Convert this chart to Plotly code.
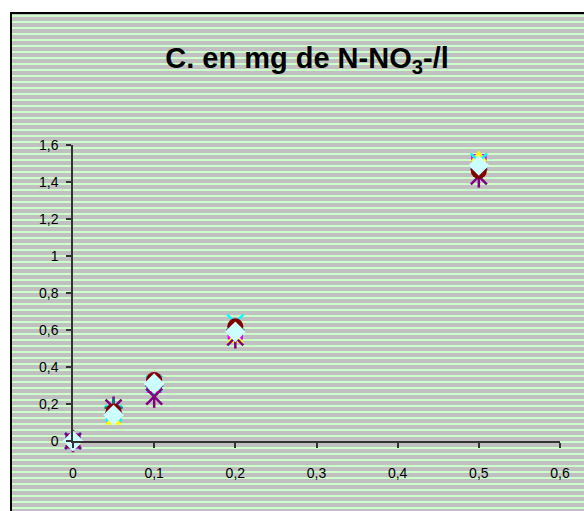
import plotly.graph_objects as go

# Concentrations (x) and measured values for each series
x_conc = [0, 0.05, 0.1, 0.2, 0.5]

serie_diamant = [0, 0.15, 0.31, 0.60, 1.49]
serie_carre_magenta = [0, 0.14, 0.30, 0.59, 1.51]
serie_triangle = [0, 0.11, 0.29, 0.55, 1.53]
serie_croix_cyan = [0, 0.15, 0.31, 0.64, 1.51]
serie_etoile = [0, 0.18, 0.24, 0.56, 1.43]
serie_cercle = [0, 0.16, 0.33, 0.62, 1.46]
serie_plus = [0, 0.18, 0.30, 0.60, 1.49]
serie_carre_bleu = [0, 0.15, 0.31, 0.59, 1.51]
serie_diamant_clair = [0, 0.14, 0.31, 0.59, 1.49]

x_ticks = [0, 0.1, 0.2, 0.3, 0.4, 0.5, 0.6]
y_ticks = [0, 0.2, 0.4, 0.6, 0.8, 1, 1.2, 1.4, 1.6]

W, H = 584, 511
ML, MR, MT, MB = 73, 24, 145, 70
PW, PH = W - ML - MR, H - MT - MB


def px(x):
    return (x - ML) / PW


def py(y):
    return (H - MB - y) / PH


fig = go.Figure()

series = [
    ("Série 1", serie_diamant, dict(symbol="diamond", size=14, color="#000080")),
    ("Série 8", serie_carre_bleu, dict(symbol="square", size=15, color="#0000FF")),
    ("Série 2", serie_carre_magenta, dict(symbol="square", size=15, color="#FF00FF")),
    ("Série 3", serie_triangle, dict(symbol="triangle-up", size=15, color="#FFFF00")),
    ("Série 4", serie_croix_cyan, dict(symbol="x-thin", size=16, color="#00FFFF",
                                       line=dict(color="#00FFFF", width=2.5))),
    ("Série 5", serie_etoile, dict(symbol="x-thin", size=16, color="#800080",
                                   line=dict(color="#800080", width=2.5))),
    ("Série 5", serie_etoile, dict(symbol="line-ns", size=16, color="#800080",
                                   line=dict(color="#800080", width=2.5))),
    ("Série 7", serie_plus, dict(symbol="cross-thin", size=13, color="#008080",
                                 line=dict(color="#008080", width=2.5))),
    ("Série 6", serie_cercle, dict(symbol="circle", size=16, color="#800000")),
    ("Série 9", serie_diamant_clair, dict(symbol="diamond", size=16, color="#CCFFFF")),
]

for name, ys, mk in series:
    mk.setdefault("line", dict(width=0))
    fig.add_trace(go.Scatter(x=x_conc, y=ys, mode="markers", name=name,
                             marker=mk, cliponaxis=False, showlegend=False))

# Striped chart-area background with a black frame on the left and top
shapes = [dict(type="rect", xref="paper", yref="paper", layer="below",
               x0=px(11), x1=px(W + 20), y0=py(13), y1=py(H + 20),
               fillcolor="#C0C0C0", line=dict(width=0))]
y = 15
while y < H:
    shapes.append(dict(type="rect", xref="paper", yref="paper", layer="below",
                       x0=px(11), x1=px(W + 20), y0=py(y), y1=py(y + 2),
                       fillcolor="#CCFFCC", line=dict(width=0)))
    y += 6
shapes.append(dict(type="line", xref="paper", yref="paper", layer="below",
                   x0=px(11), x1=px(11), y0=py(12), y1=py(H + 20),
                   line=dict(color="black", width=2)))
shapes.append(dict(type="line", xref="paper", yref="paper", layer="below",
                   x0=px(10), x1=px(W + 20), y0=py(13), y1=py(13),
                   line=dict(color="black", width=2)))

axis_font = dict(family="Liberation Sans, Arial, sans-serif", size=14, color="black")

fig.update_layout(
    width=W, height=H,
    margin=dict(l=ML, r=MR, t=MT, b=MB),
    paper_bgcolor="white",
    plot_bgcolor="rgba(0,0,0,0)",
    separators=", ",
    shapes=shapes,
    title=dict(text="<b>C. en mg de N-NO<sub>3</sub>-/l</b>",
               font=dict(family="Liberation Sans, Arial, sans-serif", size=29, color="black"),
               x=307 / W, xref="container", xanchor="center",
               y=1 - 58 / H, yref="container", yanchor="middle"),
    xaxis=dict(range=[0, 0.6], tickvals=x_ticks, showgrid=False, zeroline=False,
               showline=True, linecolor="#333333", linewidth=1.5,
               ticks="outside", ticklen=5, tickcolor="#333333", tickwidth=1.5,
               tickfont=axis_font, ticklabelstandoff=13),
    yaxis=dict(range=[0, 1.6], tickvals=y_ticks, showgrid=False, zeroline=False,
               showline=True, linecolor="#333333", linewidth=1.5,
               ticks="outside", ticklen=5, tickcolor="#333333", tickwidth=1.5,
               tickfont=axis_font, ticklabelstandoff=5),
)

fig.write_html("out.html")
